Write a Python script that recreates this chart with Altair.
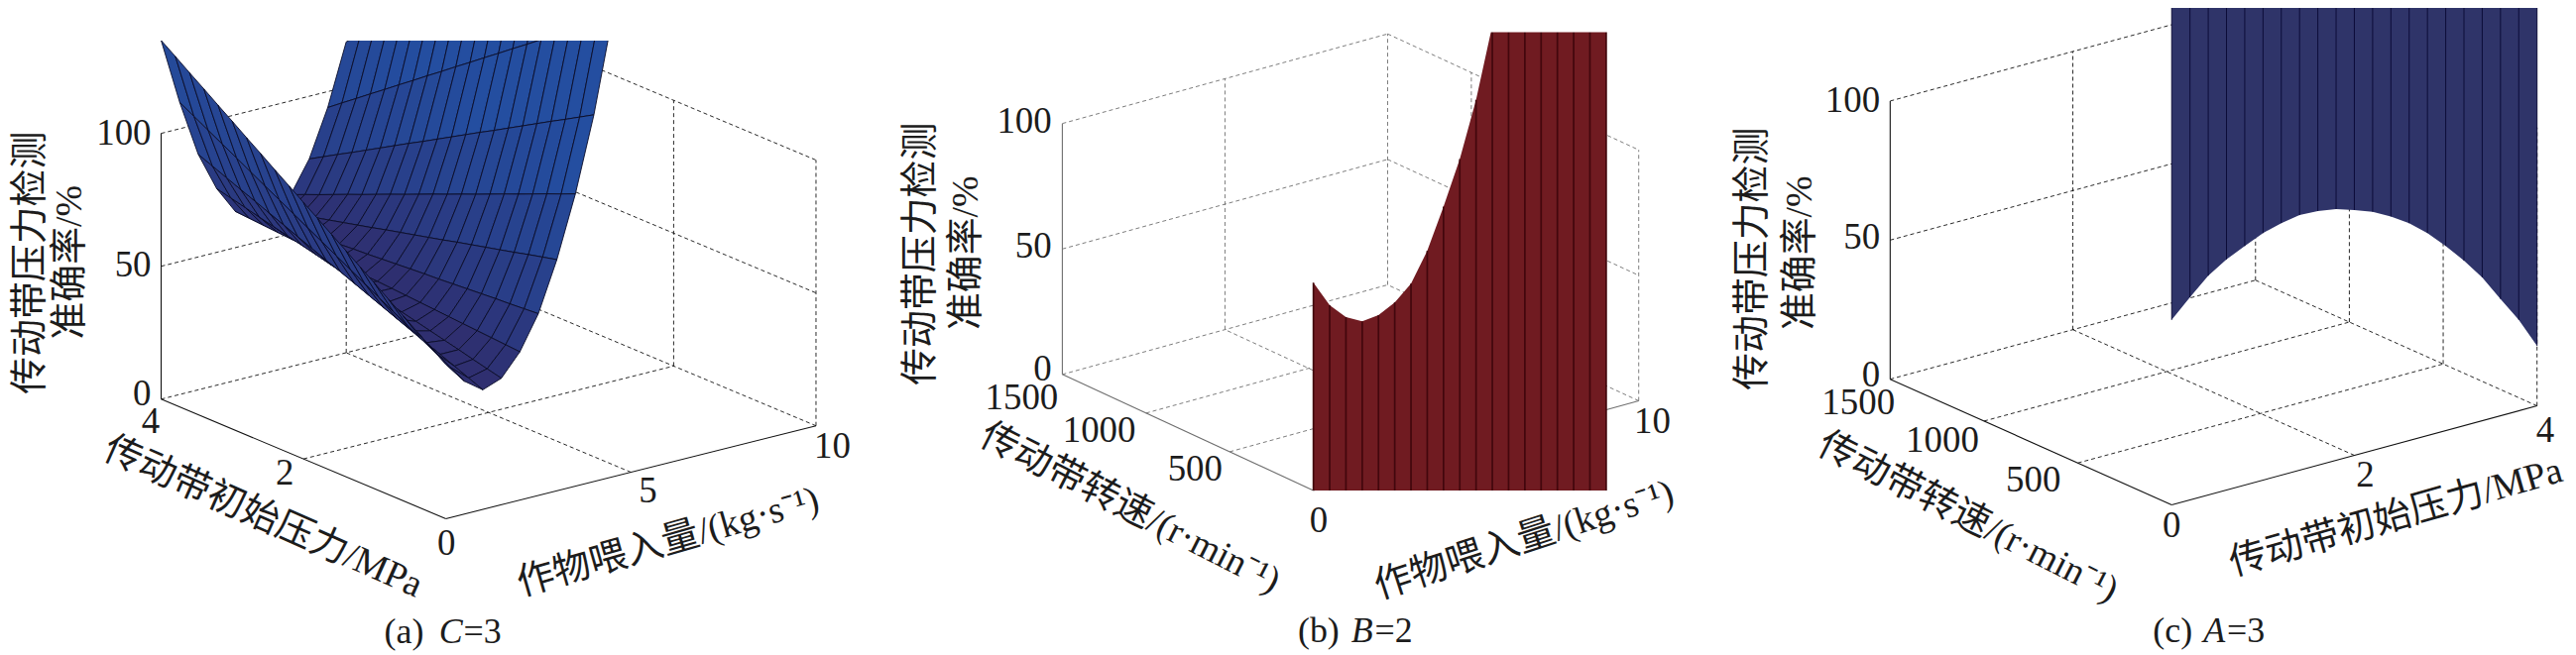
import altair as alt
import pandas as pd

# ---------- values ----------
feed_a = [0, 0.5, 1, 1.5, 2, 2.5, 3, 3.5, 4, 4.5, 5]
pressure_a = [0, .2, .4, .6, .8, 1, 1.2, 1.4, 1.6, 1.8, 2, 2.2, 2.4, 2.6, 2.8, 3, 3.2, 3.4, 3.6, 3.8, 4]
acc_row_00 = [58, 61.9, 65.7, 69.6, 73.4, 77.3, 81.1, 85, 88.8, 92.7, 96.5, 100.4, 104.2, 108.1, 111.9, 115.8, 119.6, 123.5, 127.3, 131.2, 135]
acc_row_05 = [50, 53, 56, 59, 62, 65, 68, 71, 74, 77, 80, 83, 86, 89, 92, 95, 98, 101, 104, 107, 110]
acc_row_10 = [45, 47.2, 49.4, 51.6, 53.7, 55.9, 58.1, 60.3, 62.5, 64.7, 66.9, 69, 71.2, 73.4, 75.6, 77.8, 80, 82.1, 84.3, 86.5, 88.7]
acc_row_15 = [47.6, 48.9, 50.2, 51.6, 52.9, 54.2, 55.5, 56.8, 58.2, 59.5, 60.8, 62.1, 63.4, 64.8, 66.1, 67.4, 68.7, 70, 71.4, 72.7, 74]
acc_row_20 = [55.8, 56.2, 56.6, 57, 57.4, 57.8, 58.2, 58.6, 59, 59.4, 59.8, 60.1, 60.5, 60.9, 61.3, 61.7, 62.1, 62.5, 62.9, 63.3, 63.7]
acc_row_25 = [68.4, 68, 67.6, 67.3, 66.9, 66.5, 66.1, 65.7, 65.4, 65, 64.6, 64.2, 63.8, 63.5, 63.1, 62.7, 62.3, 61.9, 61.6, 61.2, 60.8]
acc_row_30 = [87, 85.7, 84.4, 83, 81.7, 80.4, 79.1, 77.8, 76.4, 75.1, 73.8, 72.5, 71.2, 69.8, 68.5, 67.2, 65.9, 64.6, 63.2, 61.9, 60.6]
acc_row_35 = [110, 107.7, 105.5, 103.2, 100.9, 98.7, 96.4, 94.1, 91.9, 89.6, 87.4, 85.1, 82.8, 80.6, 78.3, 76, 73.8, 71.5, 69.2, 67, 64.7]
acc_row_40 = [138, 134.9, 131.8, 128.8, 125.7, 122.6, 119.5, 116.4, 113.4, 110.3, 107.2, 104.1, 101, 98, 94.9, 91.8, 88.7, 85.6, 82.6, 79.5, 76.4]
acc_row_45 = [173, 169, 165.1, 161.2, 157.2, 153.3, 149.3, 145.4, 141.4, 137.5, 133.5, 129.6, 125.6, 121.7, 117.7, 113.8, 109.8, 105.9, 101.9, 98, 94]
acc_row_50 = [212, 207.3, 202.5, 197.8, 193, 188.3, 183.5, 178.8, 174, 169.3, 164.5, 159.8, 155, 150.3, 145.5, 140.8, 136, 131.3, 126.5, 121.8, 117]
acc_a = [acc_row_00, acc_row_05, acc_row_10, acc_row_15, acc_row_20, acc_row_25,
         acc_row_30, acc_row_35, acc_row_40, acc_row_45, acc_row_50]

feed_b = [0, .5, 1, 1.5, 2, 2.5, 3, 3.5, 4, 4.5, 5, 5.5, 6, 6.5, 7, 7.5, 8, 8.5, 9]
acc_b = [82.8, 72, 65.5, 62, 62.7, 66, 71.7, 83, 98.8, 116, 137.8, 165.6, 197, 232, 270, 310, 352, 396, 442]

pressure_c = pressure_a
acc_c = [66.5, 72.8, 78.8, 82.9, 85.9, 88.8, 90.6, 91.7, 91.4, 90.3, 88.2, 85.8, 82.3, 78.1, 72.8, 66.4, 59.3, 51.5, 42, 32.7, 21.6]
acc_c_top = 190

accuracy_ticks = [0, 50, 100]
feed_ticks = [0, 5, 10]
pressure_ticks = [0, 2, 4]
speed_ticks = [0, 500, 1000, 1500]

z_title_1 = "传动带压力检测"
z_title_2 = "准确率/%"
t_feed = "作物喂入量/(kg·s⁻¹)"
t_pressure = "传动带初始压力/MPa"
t_speed = "传动带转速/(r·min⁻¹)"

# ---------- orthographic frame of each panel (page pixels) ----------
FRAMES = {
    "a": dict(L=(163, 403), F=(451, 524), R=(825.5, 430), h=2.69, amax=10, bmax=4,
              at=feed_ticks, bt=pressure_ticks, col="#111111"),
    "b": dict(L=(1074.7, 378), F=(1328.7, 495.4), R=(1657.8, 404.7), h=2.54, amax=10, bmax=1500,
              at=feed_ticks, bt=speed_ticks, col="#6e6e6e"),
    "c": dict(L=(1912.2, 382.8), F=(2197, 510), R=(2566.6, 409.8), h=2.816, amax=4, bmax=1500,
              at=pressure_ticks, bt=speed_ticks, col="#111111"),
}


def proj(panel, a, b, z):
    f = FRAMES[panel]
    sx = f["F"][0] + a / f["amax"] * (f["R"][0] - f["F"][0]) + b / f["bmax"] * (f["L"][0] - f["F"][0])
    sy = f["F"][1] + a / f["amax"] * (f["R"][1] - f["F"][1]) + b / f["bmax"] * (f["L"][1] - f["F"][1]) - z * f["h"]
    return sx, sy


grid_rows, axis_rows = [], []


def seg(rows, panel, p, q):
    gid = f"{panel}{len(rows)}"
    for k, pt in enumerate((p, q)):
        sx, sy = proj(panel, *pt)
        rows.append(dict(g=gid, k=k, sx=sx, sy=sy, col=FRAMES[panel]["col"]))


for pn, f in FRAMES.items():
    A, B = f["amax"], f["bmax"]
    for a in f["at"][1:-1]:
        seg(grid_rows, pn, (a, 0, 0), (a, B, 0))
        seg(grid_rows, pn, (a, B, 0), (a, B, 100))
    for b in f["bt"][1:-1]:
        seg(grid_rows, pn, (0, b, 0), (A, b, 0))
        seg(grid_rows, pn, (A, b, 0), (A, b, 100))
    seg(grid_rows, pn, (0, B, 0), (A, B, 0))
    seg(grid_rows, pn, (A, 0, 0), (A, B, 0))
    seg(grid_rows, pn, (A, B, 0), (A, B, 100))
    seg(grid_rows, pn, (A, 0, 0), (A, 0, 100))
    for z in accuracy_ticks[1:]:
        seg(grid_rows, pn, (0, B, z), (A, B, z))
        seg(grid_rows, pn, (A, B, z), (A, 0, z))
    seg(axis_rows, pn, (0, B, 0), (0, B, 100))
    seg(axis_rows, pn, (0, B, 0), (0, 0, 0))
    seg(axis_rows, pn, (0, 0, 0), (A, 0, 0))

# surface (a): far quads first
DARK, BRIGHT = (47, 47, 112), (36, 78, 160)
quad_rows = []
qid = 0
for i in range(len(feed_a) - 2, -1, -1):
    for j in range(len(pressure_a) - 2, -1, -1):
        slope = ((acc_a[i + 1][j] - acc_a[i][j]) + (acc_a[i + 1][j + 1] - acc_a[i][j + 1])) / 2 / 0.5
        t = min(1, max(0, (abs(slope) - 10) / 45))
        col = "#%02x%02x%02x" % tuple(int(DARK[c] + t * (BRIGHT[c] - DARK[c])) for c in range(3))
        corners = [(i, j), (i + 1, j), (i + 1, j + 1), (i, j + 1)]
        for k, (m, n) in enumerate(corners):
            sx, sy = proj("a", feed_a[m], pressure_a[n], acc_a[m][n])
            quad_rows.append(dict(q=qid, k=k, sx=sx, sy=sy, col=col))
        qid += 1

# walls (b) and (c): one closed outline each, plus their strip lines
outline_rows, strip_rows = [], []
for pn, vals, zs, fill, line in [("b", feed_b, acc_b, "#701b21", "#42070d"),
                                 ("c", pressure_c, acc_c, "#2f3469", "#0c0c38")]:
    k = 0
    far = []
    for v, z in zip(vals, zs):
        sx, sy = proj(pn, v, 0, z)
        sx0, sy0 = proj(pn, v, 0, acc_c_top) if pn == "c" else (sx, proj("b", 0, 0, 0)[1])
        strip_rows.append(dict(p=pn, sx=sx, sy=sy, sy0=sy0, line=line))
        outline_rows.append(dict(p=pn, k=k, sx=sx, sy=sy, col=fill))
        k += 1
        far.append((sx0, sy0))
    for sx0, sy0 in reversed(far):
        outline_rows.append(dict(p=pn, k=k, sx=sx0, sy=sy0, col=fill))
        k += 1
strips = pd.DataFrame(strip_rows)

X = alt.X("sx:Q", scale=alt.Scale(domain=[8, 2598], nice=False, zero=False), axis=None)
Y = alt.Y("sy:Q", scale=alt.Scale(domain=[661, 8], nice=False, zero=False), axis=None)

grid = alt.Chart(pd.DataFrame(grid_rows)).mark_line(strokeDash=[4, 3], strokeWidth=0.9).encode(
    X, Y, detail="g:N", order="k:Q", color=alt.Color("col:N", scale=None))
axes_ = alt.Chart(pd.DataFrame(axis_rows)).mark_line(strokeWidth=1.1).encode(
    X, Y, detail="g:N", order="k:Q", color=alt.Color("col:N", scale=None))
quads = alt.Chart(pd.DataFrame(quad_rows)).mark_line(
    stroke="#0a0c28", strokeWidth=0.9, interpolate="linear-closed", strokeJoin="bevel").encode(
    X, Y, detail="q:N", order="k:Q", fill=alt.Fill("col:N", scale=None))
walls = alt.Chart(pd.DataFrame(outline_rows)).mark_line(
    strokeWidth=0, interpolate="linear-closed").encode(
    X, Y, detail="p:N", order="k:Q", fill=alt.Fill("col:N", scale=None))
lines_c = alt.Chart(strips[strips.p == "c"]).mark_rule(strokeWidth=1).encode(
    X, Y, y2="sy0:Q", color=alt.Color("line:N", scale=None))
lines_b = alt.Chart(strips[strips.p == "b"]).mark_rule(strokeWidth=1.7).encode(
    X, Y, y2="sy0:Q", color=alt.Color("line:N", scale=None))

# the picture cuts surfaces (a) and (b) at its top
mask = alt.Chart(pd.DataFrame([
    dict(sx=150, sx2=660, sy=-200, sy2=40),
    dict(sx=1320, sx2=1650, sy=-200, sy2=31.5),
])).mark_rect(color="white").encode(X, x2="sx2:Q", y=Y, y2="sy2:Q")

FONT = "Liberation Serif, Noto Sans CJK SC"
labels = []
for s, yy, xx in [("100", 134, 153), ("50", 268, 153), ("0", 398, 153),
                  ("100", 122, 1064), ("50", 249, 1064), ("0", 373, 1064),
                  ("100", 101, 1902), ("50", 240, 1902), ("0", 379, 1902)]:
    labels.append(dict(t=s, sx=xx, sy=yy))
for s, xx, yy in [("4", 152.5, 426), ("2", 288, 478.5), ("0", 451.5, 550), ("5", 655.5, 497), ("10", 842, 451),
                  ("1500", 1033.6, 402.6), ("1000", 1112, 435.5), ("500", 1209, 474), ("0", 1334, 527), ("10", 1671.6, 426),
                  ("1500", 1880, 407), ("1000", 1965, 445), ("500", 2057, 485), ("0", 2197, 532), ("2", 2392.8, 480.6), ("4", 2575, 435)]:
    labels.append(dict(t=s, sx=xx, sy=yy))
right_lab = pd.DataFrame(labels[:9])
mid_lab = pd.DataFrame(labels[9:])

right_text = alt.Chart(right_lab).mark_text(font=FONT, fontSize=37, align="right", baseline="middle", color="#1c1c1c").encode(X, Y, text="t:N")
mid_text = alt.Chart(mid_lab).mark_text(font=FONT, fontSize=37, align="center", baseline="middle", color="#1c1c1c").encode(X, Y, text="t:N")

titles = pd.DataFrame([
    dict(t=z_title_1, sx=31, sy=265, ang=270), dict(t=z_title_2, sx=71, sy=264.5, ang=270),
    dict(t=z_title_1, sx=932, sy=256, ang=270), dict(t=z_title_2, sx=977.6, sy=255, ang=270),
    dict(t=z_title_1, sx=1773, sy=261, ang=270), dict(t=z_title_2, sx=1822, sy=255, ang=270),
    dict(t=t_pressure, sx=266, sy=523, ang=24), dict(t=t_feed, sx=676, sy=548, ang=344),
    dict(t=t_speed, sx=1143, sy=514, ang=27), dict(t=t_feed, sx=1542, sy=546, ang=342),
    dict(t=t_speed, sx=1990.7, sy=523, ang=27), dict(t=t_pressure, sx=2424, sy=523, ang=344),
])
title_text = alt.Chart(titles).mark_text(font=FONT, fontSize=38, align="center", baseline="middle", color="#1c1c1c").encode(
    X, Y, text="t:N", angle=alt.Angle("ang:Q", scale=None))

cap_norm = pd.DataFrame([
    dict(t="(a)", sx=408.7, sy=639), dict(t="=3", sx=488, sy=639),
    dict(t="(b)", sx=1334, sy=638), dict(t="=2", sx=1410, sy=638),
    dict(t="(c)", sx=2198, sy=638), dict(t="=3", sx=2272, sy=638),
])
cap_ital = pd.DataFrame([
    dict(t="C", sx=456, sy=639), dict(t="B", sx=1378, sy=638), dict(t="A", sx=2240, sy=638),
])
cap1 = alt.Chart(cap_norm).mark_text(font=FONT, fontSize=36, align="center", baseline="middle", color="#1c1c1c").encode(X, Y, text="t:N")
cap2 = alt.Chart(cap_ital).mark_text(font=FONT, fontSize=36, fontStyle="italic", align="center", baseline="middle", color="#1c1c1c").encode(X, Y, text="t:N")

chart = alt.layer(grid, axes_, quads, walls, lines_c, lines_b, mask,
                  right_text, mid_text, title_text, cap1, cap2).properties(
    width=2590, height=653, padding=0, autosize=alt.AutoSizeParams(type="none")
).configure_view(stroke=None)

chart.save("out.html", embed_options={"renderer": "svg", "actions": False})
